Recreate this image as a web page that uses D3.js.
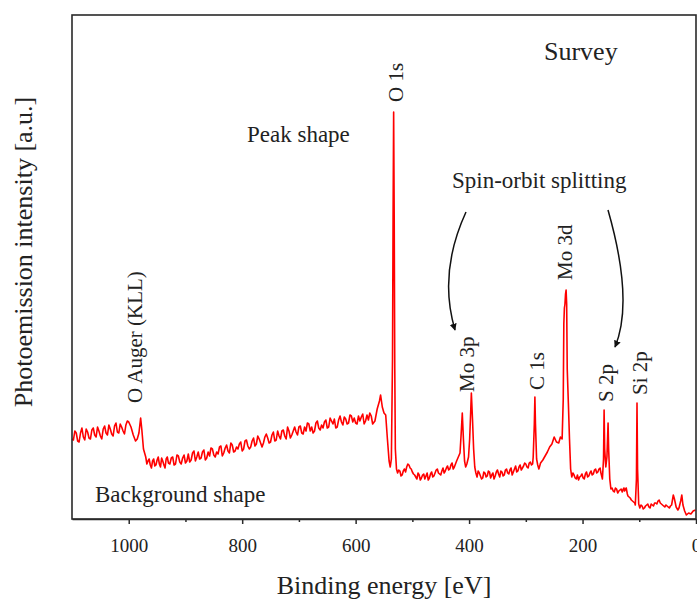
<!DOCTYPE html>
<html>
<head>
<meta charset="utf-8">
<script src="https://cdn.jsdelivr.net/npm/d3@7"></script>
<style>
  body { margin: 0; background: #fff; }
  svg text { font-family: 'Liberation Serif', 'Times New Roman', serif; fill: #222; }
</style>
</head>
<body>
<div class="canvas"></div>
<script>
// survey spectrum: [binding energy eV, intensity a.u.]
const spectrum = [
  [1100, 80], [1095, 88], [1090, 78], [1085, 86], [1080, 82], [1075, 90], [1070, 81], [1065, 89],
  [1060, 84], [1055, 92], [1050, 83], [1045, 90], [1040, 86], [1035, 94], [1030, 85], [1025, 93],
  [1020, 87], [1015, 95], [1010, 88], [1005, 94], [1000, 97], [996, 92], [992, 84], [988, 78],
  [985, 80], [982, 86], [979, 101], [977, 90], [974, 70], [970, 62], [966, 58], [962, 54],
  [958, 58], [954, 53], [950, 59], [946, 55], [942, 61], [938, 54], [934, 60], [930, 56],
  [925, 61], [920, 54], [915, 64], [910, 57], [905, 61], [900, 56], [895, 65], [890, 59],
  [885, 68], [880, 62], [875, 60], [870, 67], [865, 59], [860, 67], [855, 71], [850, 64],
  [845, 67], [840, 72], [835, 63], [830, 71], [825, 68], [820, 76], [815, 67], [810, 72],
  [805, 75], [800, 68], [795, 78], [790, 73], [785, 72], [780, 81], [775, 75], [770, 80],
  [765, 72], [760, 82], [755, 81], [750, 77], [745, 87], [740, 79], [735, 83], [730, 88],
  [725, 83], [720, 92], [715, 81], [710, 88], [705, 87], [700, 92], [695, 86], [690, 92],
  [685, 96], [680, 88], [675, 86], [670, 96], [665, 91], [660, 94], [655, 97], [650, 91],
  [645, 101], [640, 95], [635, 91], [630, 99], [625, 97], [620, 102], [615, 95], [610, 104],
  [605, 97], [600, 96], [595, 103], [590, 102], [585, 95], [580, 104], [575, 106], [570, 95],
  [566, 98], [562, 110], [558, 118], [556, 124], [553, 112], [550, 106], [547, 104], [544, 80],
  [541, 58], [539, 52], [537, 60], [535, 160], [534, 300], [533, 407], [532, 300], [531, 150],
  [530, 70], [528, 50], [526, 46], [522, 48], [518, 44], [514, 50], [510, 52], [506, 54],
  [502, 50], [498, 45], [494, 42], [490, 46], [486, 39], [482, 44], [478, 40], [474, 46],
  [470, 41], [466, 47], [462, 43], [458, 49], [454, 46], [450, 44], [446, 51], [442, 48],
  [438, 53], [434, 50], [430, 56], [426, 52], [422, 58], [419, 62], [416, 66], [414, 85],
  [412, 106], [410, 80], [408, 58], [406, 52], [404, 55], [401, 62], [399, 80], [397, 110],
  [396, 126], [394, 100], [392, 70], [390, 52], [388, 46], [386, 42], [382, 46], [378, 40],
  [374, 47], [370, 42], [366, 48], [362, 41], [358, 46], [354, 43], [350, 49], [346, 42],
  [342, 47], [338, 44], [334, 50], [330, 45], [326, 51], [322, 47], [318, 53], [314, 48],
  [310, 54], [306, 51], [302, 56], [298, 52], [294, 56], [290, 54], [287, 62], [285, 95],
  [284, 122], [283, 95], [281, 60], [279, 54], [277, 50], [274, 56], [270, 59], [266, 63],
  [262, 67], [258, 72], [254, 75], [250, 82], [246, 77], [242, 76], [239, 82], [236, 80],
  [234, 120], [233, 195], [232, 211], [231, 215], [230, 225], [229, 229], [228, 215], [227, 150],
  [225, 116], [223, 80], [221, 50], [219, 42], [215, 44], [211, 40], [207, 39], [203, 43],
  [199, 41], [195, 45], [191, 42], [187, 46], [183, 44], [179, 49], [175, 46], [171, 50],
  [168, 47], [165, 40], [163, 60], [162, 109], [161, 70], [159, 52], [157, 62], [155, 96],
  [154, 70], [152, 40], [150, 30], [146, 28], [142, 31], [138, 26], [134, 29], [130, 27],
  [127, 31], [124, 30], [121, 25], [118, 22], [114, 19], [110, 17], [107, 14], [105, 40],
  [104, 116], [103, 50], [101, 15], [99, 11], [95, 13], [91, 11], [87, 14], [83, 12],
  [79, 15], [75, 13], [71, 16], [67, 18], [63, 16], [59, 14], [55, 12], [51, 13],
  [47, 11], [43, 14], [40, 24], [38, 20], [35, 12], [32, 9], [30, 11], [27, 18],
  [25, 24], [23, 14], [20, 8], [17, 4], [13, 6], [9, 5], [5, 8], [1, 9]
];

// extra readings of the noisy background between the points above
const backgroundNoise = [
  [1097.5, 79], [1092.5, 86], [1087.5, 77], [1082.5, 91], [1077.5, 79], [1072.5, 87], [1067.5, 80],
  [1062.5, 91], [1057.5, 82], [1052.5, 88], [1047.5, 80], [1042.5, 93], [1037.5, 84], [1032.5, 90],
  [1027.5, 83], [1022.5, 96], [1017.5, 86], [1012.5, 92], [1007.5, 85], [1002.5, 98],
  [968, 55], [964, 60], [960, 51], [956, 60], [952, 54], [948, 62], [944, 52], [940, 58],
  [936, 51], [932, 62], [927.5, 55],
  [922.5, 62], [917.5, 55], [912.5, 63], [907.5, 55], [902.5, 64], [897.5, 58], [892.5, 57],
  [887.5, 66], [882.5, 58], [877.5, 67], [872.5, 61], [867.5, 69], [862.5, 61], [857.5, 63],
  [852.5, 70], [847.5, 62], [842.5, 65], [837.5, 73], [832.5, 66], [827.5, 74], [822.5, 66],
  [817.5, 74], [812.5, 68], [807.5, 70], [802.5, 77], [797.5, 70], [792.5, 79], [787.5, 70],
  [782.5, 78], [777.5, 73], [772.5, 83], [767.5, 76], [762.5, 76], [757.5, 85], [752.5, 76],
  [747.5, 84], [742.5, 78], [737.5, 88], [732.5, 80], [727.5, 89], [722.5, 80], [717.5, 88],
  [712.5, 84], [707.5, 92], [702.5, 84], [697.5, 93], [692.5, 85], [687.5, 88], [682.5, 95],
  [677.5, 92], [672.5, 88], [667.5, 98], [662.5, 89], [657.5, 91], [652.5, 99], [647.5, 92],
  [642.5, 98], [637.5, 100], [632.5, 92], [627.5, 103], [622.5, 94], [617.5, 100], [612.5, 96],
  [607.5, 103], [602.5, 101], [597.5, 95], [592.5, 98], [587.5, 105], [582.5, 98], [577.5, 99],
  [572.5, 103],
  [524, 49], [520, 43], [516, 48], [512, 47], [508, 55], [504, 51], [500, 47], [496, 44],
  [492, 40], [488, 44], [484, 41], [480, 45], [476, 43], [472, 39], [468, 45], [464, 42],
  [460, 46], [456, 50], [452, 45], [448, 48], [444, 46], [440, 51], [436, 49], [432, 54],
  [428, 50], [424, 55],
  [384, 48], [380, 43], [376, 41], [372, 46], [368, 43], [364, 47], [360, 44], [356, 40],
  [352, 47], [348, 45], [344, 48], [340, 43], [336, 49], [332, 46], [328, 49], [324, 44],
  [320, 50], [316, 47], [312, 52], [308, 49], [304, 53], [300, 55], [296, 51], [292, 57], [288, 55],
  [217, 46], [213, 41], [209, 44], [205, 42], [201, 45], [197, 40], [193, 47], [189, 43],
  [185, 48], [181, 45], [177, 50], [173, 47], [169, 51],
  [148, 31], [144, 27], [140, 30], [136, 28], [132, 30], [129, 29], [126, 28], [123, 31],
  [120, 23], [116, 21], [112, 18], [108, 16],
  [97, 14], [93, 10], [89, 13], [85, 15], [81, 11], [77, 14], [73, 16], [69, 15],
  [65, 19], [61, 15], [57, 13], [53, 14], [49, 12], [45, 13]
];

const majorTicks = [1000, 800, 600, 400, 200, 0];
const minorTicks = [900, 700, 500, 300, 100];

// peak labels: text, energy of label centre, intensity where the text starts
const peakLabels = [
  { text: 'O Auger (KLL)', ev: 989, level: 116 },
  { text: 'O 1s', ev: 530, level: 417 },
  { text: 'Mo 3p', ev: 405, level: 127 },
  { text: 'C 1s', ev: 281, level: 129 },
  { text: 'Mo 3d', ev: 231, level: 239 },
  { text: 'S 2p', ev: 159, level: 117 },
  { text: 'Si 2p', ev: 99, level: 124 }
];

const dims = { width: 697, height: 599 };
const plot = { left: 72, right: 696, top: 15, bottom: 519 };

const svg = d3.select('.canvas')
  .append('svg')
  .attr('width', dims.width)
  .attr('height', dims.height);

const x = d3.scaleLinear().domain([1100, 0]).range([plot.left, plot.right]);
const y = d3.scaleLinear().domain([0, 504]).range([plot.bottom, plot.top]);

// merge both readings, ordered by energy (high -> low)
const data = spectrum.concat(backgroundNoise).sort((a, b) => b[0] - a[0]);

const line = d3.line()
  .x(d => x(d[0]))
  .y(d => y(d[1]));

svg.append('path')
  .datum(data)
  .attr('d', line)
  .attr('fill', 'none')
  .attr('stroke', '#ff0000')
  .attr('stroke-width', 1.6)
  .attr('stroke-linejoin', 'round');

// frame
svg.append('rect')
  .attr('x', plot.left)
  .attr('y', plot.top)
  .attr('width', plot.right - plot.left)
  .attr('height', plot.bottom - plot.top)
  .attr('fill', 'none')
  .attr('stroke', '#2a2a2a')
  .attr('stroke-width', 1.6);

// x axis, major + minor ticks
const xAxis = svg.append('g')
  .attr('transform', `translate(0,${plot.bottom})`)
  .call(d3.axisBottom(x).tickValues(majorTicks).tickSize(5).tickSizeOuter(0).tickFormat(d3.format('d')));

xAxis.select('.domain').attr('stroke', '#2a2a2a').attr('stroke-width', 1.6);
xAxis.selectAll('.tick line').attr('stroke', '#2a2a2a').attr('stroke-width', 1.5);
xAxis.selectAll('.tick text')
  .attr('y', 33)
  .attr('dy', 0)
  .style('font-size', '19px')
  .style('font-family', "'Liberation Serif', 'Times New Roman', serif")
  .attr('fill', '#222');

const xMinor = svg.append('g')
  .attr('transform', `translate(0,${plot.bottom})`)
  .call(d3.axisBottom(x).tickValues(minorTicks).tickSize(3).tickSizeOuter(0).tickFormat(''));
xMinor.select('.domain').remove();
xMinor.selectAll('.tick line').attr('stroke', '#2a2a2a').attr('stroke-width', 1.5);

// axis titles
svg.append('text')
  .attr('x', (plot.left + plot.right) / 2)
  .attr('y', 594)
  .attr('text-anchor', 'middle')
  .style('font-size', '26px')
  .text('Binding energy [eV]');

svg.append('text')
  .attr('transform', `translate(32,${(plot.top + plot.bottom) / 2 - 15}) rotate(-90)`)
  .attr('text-anchor', 'middle')
  .style('font-size', '26px')
  .text('Photoemission intensity [a.u.]');

// peak labels (rotated)
svg.selectAll('.peak-label')
  .data(peakLabels)
  .enter()
  .append('text')
  .attr('class', 'peak-label')
  .attr('transform', d => `translate(${x(d.ev)},${y(d.level)}) rotate(-90)`)
  .attr('dy', '0.35em')
  .style('font-size', '21px')
  .text(d => d.text);

// free annotations
const notes = [
  { text: 'Survey', x: 544, y: 60, size: 26 },
  { text: 'Peak shape', x: 247, y: 142, size: 23 },
  { text: 'Spin-orbit splitting', x: 452, y: 188, size: 23 },
  { text: 'Background shape', x: 95, y: 502, size: 23 }
];
svg.selectAll('.note')
  .data(notes)
  .enter()
  .append('text')
  .attr('class', 'note')
  .attr('x', d => d.x)
  .attr('y', d => d.y)
  .style('font-size', d => d.size + 'px')
  .text(d => d.text);

// curved arrows for the spin-orbit pairs
svg.append('defs').append('marker')
  .attr('id', 'head')
  .attr('viewBox', '0 0 10 10')
  .attr('refX', 9)
  .attr('refY', 5)
  .attr('markerWidth', 7)
  .attr('markerHeight', 9)
  .attr('markerUnits', 'userSpaceOnUse')
  .attr('orient', 'auto')
  .append('path')
  .attr('d', 'M0,0 L10,5 L0,10 Z')
  .attr('fill', '#111');

const arrows = [
  'M466,212 Q438,273 455,330',
  'M608,210 Q634,301 615,347'
];
svg.selectAll('.arrow')
  .data(arrows)
  .enter()
  .append('path')
  .attr('class', 'arrow')
  .attr('d', d => d)
  .attr('fill', 'none')
  .attr('stroke', '#111')
  .attr('stroke-width', 1.5)
  .attr('marker-end', 'url(#head)');
</script>
</body>
</html>
